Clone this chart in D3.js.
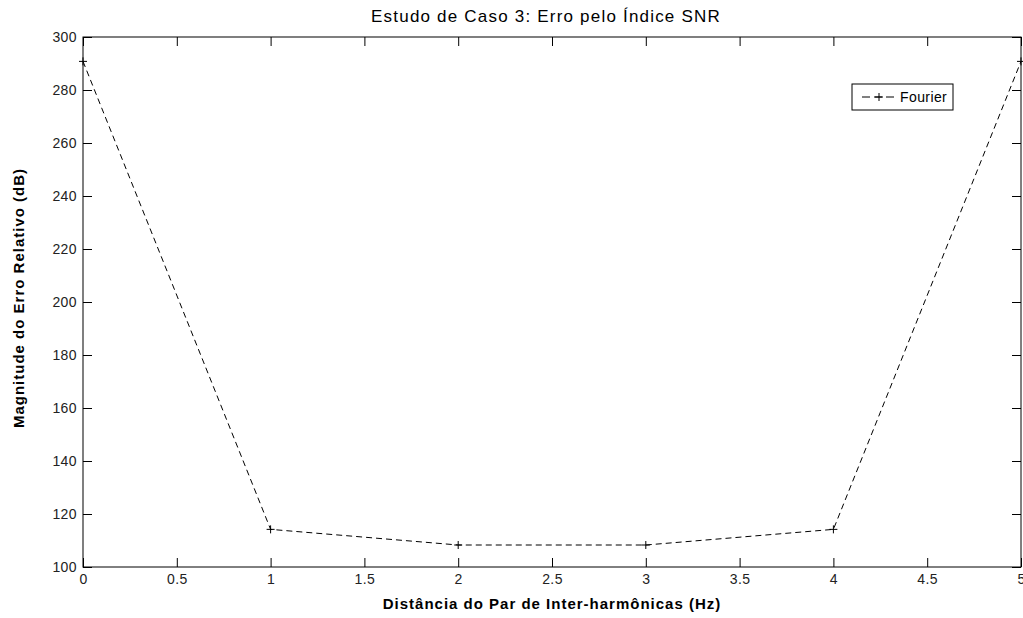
<!DOCTYPE html>
<html>
<head>
<script src="https://d3js.org/d3.v7.min.js"></script>
<style>
  body { margin: 0; background: #fff; }
  text { font-family: "Liberation Sans", Arial, sans-serif; fill: #000; }
  .tick text { font-size: 14px; fill: #222; letter-spacing: 0.4px; }
  .tick line { stroke: #000; }
  .domain { display: none; }
</style>
</head>
<body>
<script>
// data
var distances = [0, 1, 2, 3, 4, 5];
var fourierErr = [290.8, 114.2, 108.3, 108.3, 114.2, 290.8];
var xTicks = [0, 0.5, 1, 1.5, 2, 2.5, 3, 3.5, 4, 4.5, 5];
var yTicks = [100, 120, 140, 160, 180, 200, 220, 240, 260, 280, 300];

var width = 1023, height = 618;
var plotL = 83, plotR = 1021, plotT = 37, plotB = 567;
var tickLen = 9;

var svg = d3.select("body").append("svg")
  .attr("width", width)
  .attr("height", height);

var x = d3.scaleLinear().domain([0, 5]).range([plotL, plotR]);
var y = d3.scaleLinear().domain([100, 300]).range([plotB, plotT]);

// axes with inward ticks, mirrored on top/right
svg.append("g")
  .attr("transform", "translate(0," + plotB + ")")
  .call(d3.axisBottom(x).tickValues(xTicks).tickSize(-tickLen).tickPadding(7)
    .tickFormat(d3.format("")));

svg.append("g")
  .attr("transform", "translate(0," + plotT + ")")
  .call(d3.axisTop(x).tickValues(xTicks).tickSize(-tickLen).tickFormat(""));

svg.append("g")
  .attr("transform", "translate(" + plotL + ",0)")
  .call(d3.axisLeft(y).tickValues(yTicks).tickSize(-tickLen).tickPadding(6));

svg.append("g")
  .attr("transform", "translate(" + plotR + ",0)")
  .call(d3.axisRight(y).tickValues(yTicks).tickSize(-tickLen).tickFormat(""));

// box
svg.append("rect")
  .attr("x", plotL).attr("y", plotT)
  .attr("width", plotR - plotL).attr("height", plotB - plotT)
  .attr("fill", "none").attr("stroke", "#000").attr("stroke-width", 1);

// the line
var line = d3.line()
  .x(function(d, i) { return x(distances[i]); })
  .y(function(d) { return y(d); });

svg.append("path")
  .datum(fourierErr)
  .attr("d", line)
  .attr("fill", "none")
  .attr("stroke", "#000")
  .attr("stroke-width", 1)
  .attr("stroke-dasharray", "6,4");

svg.selectAll(".pt")
  .data(fourierErr)
  .enter().append("path")
  .attr("class", "pt")
  .attr("d", function(d, i) {
    var cx = x(distances[i]), cy = y(d);
    return "M" + (cx - 4) + "," + cy + "H" + (cx + 4) + "M" + cx + "," + (cy - 4) + "V" + (cy + 4);
  })
  .attr("stroke", "#000")
  .attr("stroke-width", 1)
  .attr("fill", "none");

// legend
var lg = svg.append("g").attr("transform", "translate(852,84)");
lg.append("rect").attr("width", 101).attr("height", 26)
  .attr("fill", "#fff").attr("stroke", "#000");
lg.append("path")
  .attr("d", "M10,13H45")
  .attr("stroke", "#000").attr("stroke-dasharray", "8,4");
lg.append("path")
  .attr("d", "M23,13H31M27,9V17")
  .attr("stroke", "#000");
lg.append("text").attr("x", 48).attr("y", 18)
  .style("font-size", "14px").style("letter-spacing", "0.4px").text("Fourier");

// title and labels
svg.append("text")
  .attr("x", 546).attr("y", 22)
  .attr("text-anchor", "middle")
  .style("font-size", "17px").style("letter-spacing", "1.2px")
  .text("Estudo de Caso 3: Erro pelo Índice SNR");

svg.append("text")
  .attr("x", 552).attr("y", 609)
  .attr("text-anchor", "middle")
  .style("font-size", "15px").style("font-weight", "bold").style("letter-spacing", "1px")
  .text("Distância do Par de Inter-harmônicas (Hz)");

svg.append("text")
  .attr("transform", "translate(24,298) rotate(-90)")
  .attr("text-anchor", "middle")
  .style("font-size", "15px").style("font-weight", "bold").style("letter-spacing", "1px")
  .text("Magnitude do Erro Relativo (dB)");
</script>
</body>
</html>
